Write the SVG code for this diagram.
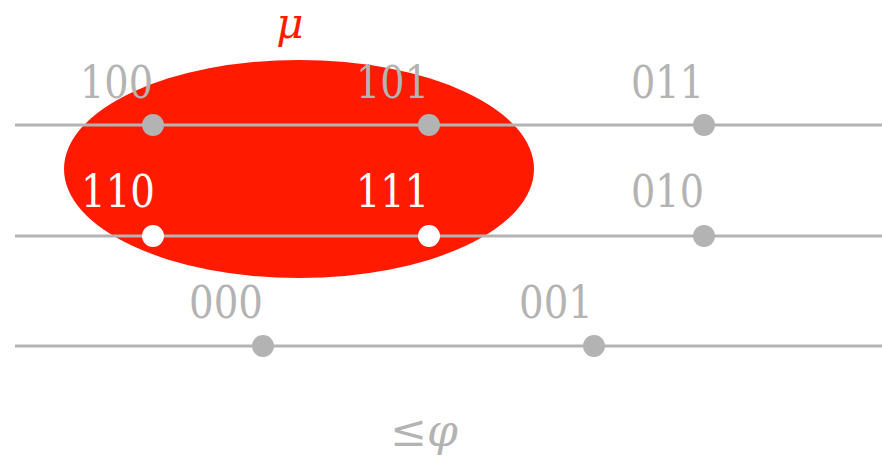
<svg xmlns="http://www.w3.org/2000/svg" width="882" height="457" viewBox="0 0 882 457">
<style>
.ln{stroke:#b3b3b3;stroke-width:3;fill:none}
.dot{fill:#b3b3b3}
.wdot{fill:#ffffff}
.lbl{font-family:'DejaVu Serif',serif;font-size:45px;fill:#b3b3b3;text-anchor:end}
.wlbl{fill:#ffffff}
</style>
<rect width="882" height="457" fill="#ffffff"/>
<g id="mu">
<ellipse cx="299" cy="169" rx="235" ry="109" fill="#ff1a00"/>
<text x="290" y="38" font-family="'DejaVu Serif',serif" font-style="italic" font-size="42" fill="#ff1a00" text-anchor="middle">μ</text>
</g>
<g id="connectors">
<line class="ln" x1="15" y1="125" x2="882" y2="125"/>
<line class="ln" x1="15" y1="236" x2="882" y2="236"/>
<line class="ln" x1="15" y1="346" x2="882" y2="346"/>
</g>
<g id="n100"><circle class="dot" cx="153" cy="125" r="11"/><text class="lbl" x="153" y="98" textLength="73" lengthAdjust="spacingAndGlyphs">100</text></g>
<g id="n101"><circle class="dot" cx="429" cy="125" r="11"/><text class="lbl" x="429" y="98" textLength="73" lengthAdjust="spacingAndGlyphs">101</text></g>
<g id="n011"><circle class="dot" cx="704" cy="125" r="11"/><text class="lbl" x="704" y="98" textLength="73" lengthAdjust="spacingAndGlyphs">011</text></g>
<g id="n110"><circle class="wdot" cx="153" cy="236" r="11"/><text class="lbl wlbl" x="155" y="207" textLength="74" lengthAdjust="spacingAndGlyphs">110</text></g>
<g id="n111"><circle class="wdot" cx="429" cy="236" r="11"/><text class="lbl wlbl" x="429" y="207" textLength="73" lengthAdjust="spacingAndGlyphs">111</text></g>
<g id="n010"><circle class="dot" cx="704" cy="236" r="11"/><text class="lbl" x="704" y="207" textLength="73" lengthAdjust="spacingAndGlyphs">010</text></g>
<g id="n000"><circle class="dot" cx="263" cy="346" r="11"/><text class="lbl" x="263" y="318" textLength="74" lengthAdjust="spacingAndGlyphs">000</text></g>
<g id="n001"><circle class="dot" cx="594" cy="346" r="11"/><text class="lbl" x="593" y="318" textLength="74" lengthAdjust="spacingAndGlyphs">001</text></g>
<g id="order">
<text x="424" y="446" font-family="'DejaVu Serif',serif" font-size="44" fill="#b3b3b3" text-anchor="middle">≤<tspan font-style="italic">φ</tspan></text>
</g>
</svg>
